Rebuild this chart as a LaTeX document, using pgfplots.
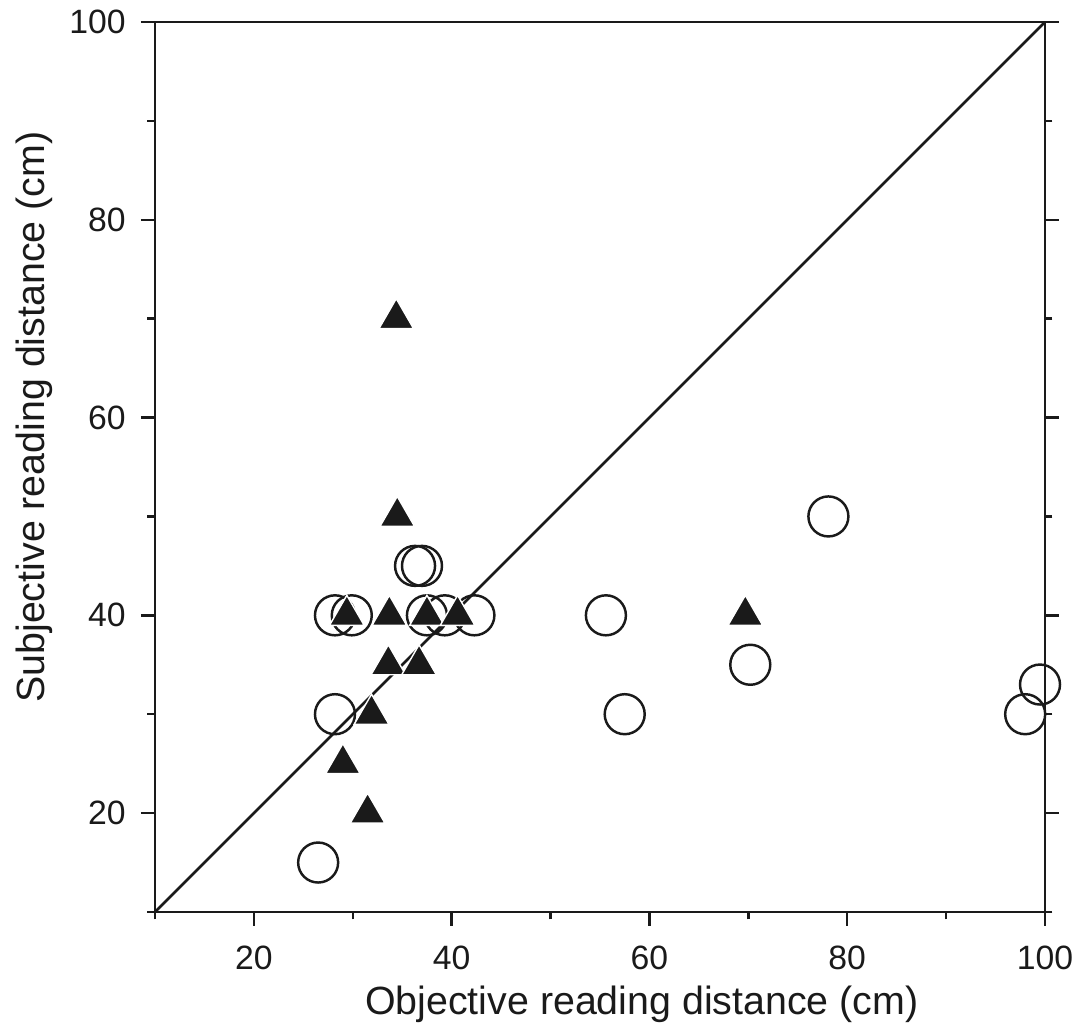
\documentclass[border=0pt]{standalone}
\usepackage{pgfplots}
\pgfplotsset{compat=1.18}
\usepackage{fontspec}
\setmainfont{Liberation Sans}
\definecolor{ink}{HTML}{1A1A1A}
\begin{document}
\begin{tikzpicture}
\useasboundingbox (0,0) rectangle (10.81cm,10.34cm);
\begin{axis}[
  at={(1.55cm,1.22cm)}, anchor=south west,
  scale only axis, width=8.9cm, height=8.9cm,
  xmin=10, xmax=100, ymin=10, ymax=100,
  axis line style={ink, line width=0.7pt},
  every tick/.style={ink, line width=0.7pt},
  tick align=outside,
  xtick pos=bottom, ytick pos=both,
  yticklabel pos=left,
  xtick={20,40,60,80,100}, ytick={20,40,60,80,100},
  minor xtick={10,30,50,70,90}, minor ytick={10,30,50,70,90},
  major tick length=1.4mm, minor tick length=0.75mm,
  /pgf/number format/assume math mode=true,
  tick label style={font=\fontsize{9.6}{11}\selectfont, text=ink},
  xticklabel style={yshift=-0.8mm},
  yticklabel style={xshift=-0.3mm},
  xlabel={Objective reading distance (cm)},
  ylabel={Subjective reading distance (cm)},
  label style={font=\fontsize{11.2}{13}\selectfont, text=ink},
  xlabel style={at={(axis description cs:0.547,-0.1157)}, anchor=base},
  ylabel style={at={(axis description cs:-0.1236,0.556)}, anchor=base, rotate=0},
  clip=false,
]
\addplot[ink, line width=0.75pt, no marks] coordinates {(10,10) (100,100)};
% open circles
\addplot[only marks, mark=o, mark size=2mm, mark options={ink, line width=0.7pt}] coordinates {
(26.5,15) (28.2,30) (57.5,30) (70.2,35) (78.1,50) (98.0,30) (99.5,33)
(55.6,40) (28.2,40) (29.9,40) (37.5,40) (39.3,40) (42.3,40)
(36.3,45) (37.0,45)
};
% filled triangles
\addplot[only marks, mark=triangle*, mark size=2.0mm, mark options={fill=ink, draw=white, line width=0.4pt}] coordinates {
(34.4,70) (34.5,50)
(29.4,40) (33.7,40) (37.5,40) (40.6,40) (69.7,40)
(33.6,35) (36.7,35)
(31.9,30) (29.0,25) (31.5,20)
};
\end{axis}
\end{tikzpicture}
\end{document}
